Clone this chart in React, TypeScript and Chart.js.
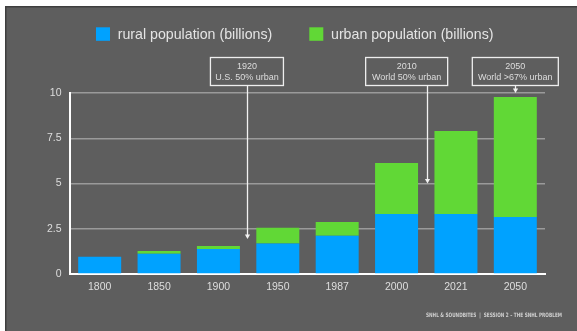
import React, { useEffect, useRef } from "react";
import { Chart, registerables } from "chart.js";

Chart.register(...registerables);

const categories = ["1800", "1850", "1900", "1950", "1987", "2000", "2021", "2050"];
const ruralPopulation = [0.95, 1.12, 1.38, 1.68, 2.12, 3.31, 3.31, 3.15];
const urbanPopulation = [0.0, 0.15, 0.17, 0.88, 0.75, 2.82, 4.59, 6.63];
const seriesLabels = ["rural population (billions)", "urban population (billions)"];
const seriesColors = ["#00A2FF", "#61D836"];

const annotationTitles = ["1920", "2010", "2050"];
const annotationTexts = ["U.S. 50% urban", "World 50% urban", "World >67% urban"];
const annotationLineAt = [2.475, 5.51, 7]; // fractional category index
const annotationTipValue = [1.93, 5.0, 10];

const footerText = "SNHL & SOUNDBITES  |  SESSION 2 – THE SNHL PROBLEM";

// layout-only constants
const annotationBoxCenterAt = [2.48, 5.17, 7];
const annotationBoxWidth = [73, 82, 86];

const FONT = "'Liberation Sans', Arial, Helvetica, sans-serif";

const slidePlugin = {
  id: "slide",
  beforeDraw(chart: any) {
    const { ctx, width, height } = chart;
    ctx.save();
    ctx.fillStyle = "#ffffff";
    ctx.fillRect(0, 0, width, height);
    ctx.fillStyle = "#3e3e3e";
    ctx.fillRect(5, 6, width - 5, height - 6);
    ctx.fillStyle = "#5e5e5e";
    ctx.fillRect(6.5, 7.5, width - 6.5, height - 7.5);
    ctx.restore();
  },
  afterDraw(chart: any) {
    const { ctx } = chart;
    const xs = chart.scales.x;
    const ys = chart.scales.y;
    const step = xs.getPixelForValue(1) - xs.getPixelForValue(0);
    const px = (f: number) => xs.getPixelForValue(0) + f * step;
    ctx.save();

    // legend
    const legendX = [96, 309.3];
    seriesLabels.forEach((lab, i) => {
      ctx.fillStyle = seriesColors[i];
      ctx.fillRect(legendX[i], 27.3, 14, 13.5);
      ctx.fillStyle = "#e4e4e4";
      ctx.font = `14.2px ${FONT}`;
      ctx.textAlign = "left";
      ctx.textBaseline = "middle";
      ctx.fillText(lab, legendX[i] + 21.7, 35);
    });

    // annotations
    annotationTitles.forEach((title, i) => {
      const lx = Math.round(px(annotationLineAt[i])) + 0.5;
      const bx = px(annotationBoxCenterAt[i]);
      const bw = annotationBoxWidth[i];
      const top = 57.5;
      const bh = 28;
      ctx.strokeStyle = "#eeeeee";
      ctx.lineWidth = 1.3;
      ctx.strokeRect(bx - bw / 2, top, bw, bh);
      ctx.fillStyle = "#dddddd";
      ctx.font = `9px ${FONT}`;
      ctx.textAlign = "center";
      ctx.textBaseline = "middle";
      ctx.fillText(title, bx, 67);
      ctx.fillText(annotationTexts[i], bx, 77.3);
      const tipY = ys.getPixelForValue(annotationTipValue[i]);
      ctx.strokeStyle = "#f2f2f2";
      ctx.lineWidth = 1.3;
      ctx.beginPath();
      ctx.moveTo(lx, top + bh);
      ctx.lineTo(lx, tipY - 3);
      ctx.stroke();
      ctx.fillStyle = "#f2f2f2";
      ctx.beginPath();
      ctx.moveTo(lx - 2.6, tipY - 4.5);
      ctx.lineTo(lx + 2.6, tipY - 4.5);
      ctx.lineTo(lx, tipY);
      ctx.closePath();
      ctx.fill();
    });

    // footer
    ctx.fillStyle = "#d0d0d0";
    ctx.font = `bold 6px 'DejaVu Sans Condensed', ${FONT}`;
    ctx.textAlign = "left";
    ctx.textBaseline = "middle";
    ctx.fillText(footerText, 426, 315, 136);
    ctx.restore();
  },
};

export default function App() {
  const canvasRef = useRef<HTMLCanvasElement | null>(null);

  useEffect(() => {
    const canvas = canvasRef.current;
    if (!canvas) return;
    const chart = new Chart(canvas, {
      type: "bar",
      data: {
        labels: categories,
        datasets: [
          {
            label: seriesLabels[0],
            data: ruralPopulation,
            backgroundColor: seriesColors[0],
            borderWidth: 0,
            barPercentage: 0.724,
            categoryPercentage: 1,
          },
          {
            label: seriesLabels[1],
            data: urbanPopulation,
            backgroundColor: seriesColors[1],
            borderWidth: 0,
            barPercentage: 0.724,
            categoryPercentage: 1,
          },
        ],
      },
      options: {
        animation: false,
        responsive: false,
        devicePixelRatio: 1,
        layout: { padding: { left: 40, right: 32, top: 93, bottom: 27 } },
        plugins: {
          legend: { display: false },
          tooltip: { enabled: false },
        },
        scales: {
          x: {
            stacked: true,
            grid: { display: false, drawTicks: false },
            border: { display: true, color: "#ffffff", width: 2 },
            ticks: {
              color: "#dedede",
              font: { family: FONT, size: 10.5 },
              padding: 7,
            },
            afterFit: (s: any) => {
              s.height = 30;
            },
          },
          y: {
            stacked: true,
            min: 0,
            max: 10,
            grid: { color: "#9a9a9a", lineWidth: 1.4, drawTicks: false },
            border: { display: true, color: "#ffffff", width: 2 },
            ticks: {
              stepSize: 2.5,
              color: "#dedede",
              font: { family: FONT, size: 10.5 },
              padding: 8.5,
            },
            afterFit: (s: any) => {
              s.width = 30;
            },
          },
        },
      },
      plugins: [slidePlugin],
    });
    return () => chart.destroy();
  }, []);

  return (
    <div style={{ position: "absolute", left: 0, top: 0, width: 577, height: 331 }}>
      <canvas ref={canvasRef} width={577} height={331} style={{ width: 577, height: 331, display: "block" }} />
    </div>
  );
}
